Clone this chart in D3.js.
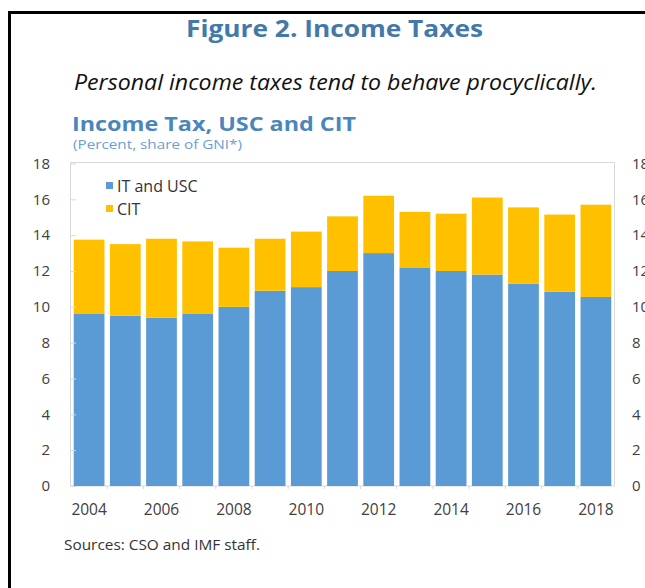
<!DOCTYPE html>
<html>
<head>
<meta charset="utf-8">
<script src="https://cdn.jsdelivr.net/npm/d3@7"></script>
<style>
  html, body { margin: 0; padding: 0; background: #fff; }
  svg { display: block; }
  text { font-family: "Open Sans", "Noto Sans", sans-serif; }
</style>
</head>
<body>
<svg id="chart" width="645" height="588"></svg>
<script>
// Income tax and USC vs corporate income tax, percent of GNI*
const years = [2004, 2005, 2006, 2007, 2008, 2009, 2010, 2011, 2012, 2013, 2014, 2015, 2016, 2017, 2018];
const itUsc = [9.6, 9.5, 9.4, 9.6, 10.0, 10.9, 11.1, 12.0, 13.0, 12.2, 12.0, 11.8, 11.3, 10.85, 10.55];
const cit   = [4.15, 4.0, 4.4, 4.05, 3.3, 2.9, 3.1, 3.05, 3.2, 3.1, 3.2, 4.3, 4.25, 4.3, 5.15];
const seriesNames = ["IT and USC", "CIT"];
const seriesColors = ["#5B9BD5", "#FFC000"];
const yTicks = [0, 2, 4, 6, 8, 10, 12, 14, 16, 18];
const xTickYears = [2004, 2006, 2008, 2010, 2012, 2014, 2016, 2018];

const svg = d3.select("#chart");
const plot = { left: 71, right: 614, top: 163, bottom: 486 };

// Frame around the figure
svg.append("path")
  .attr("d", "M9.5,588 L9.5,12.5 L645,12.5")
  .attr("fill", "none").attr("stroke", "#000").attr("stroke-width", 3);

// Headings
svg.append("text").attr("x", 186).attr("y", 37)
  .attr("font-size", 23.5).attr("font-weight", 700).attr("fill", "#4279A9")
  .attr("textLength", 297).attr("lengthAdjust", "spacingAndGlyphs")
  .text("Figure 2. Income Taxes");
svg.append("text").attr("x", 74).attr("y", 90)
  .attr("font-size", 21.5).attr("font-style", "italic").attr("fill", "#111")
  .attr("textLength", 523).attr("lengthAdjust", "spacingAndGlyphs")
  .text("Personal income taxes tend to behave procyclically.");
svg.append("text").attr("x", 72).attr("y", 131)
  .attr("font-size", 20).attr("font-weight", 700).attr("fill", "#4A86BD")
  .attr("textLength", 284).attr("lengthAdjust", "spacingAndGlyphs")
  .text("Income Tax, USC and CIT");
svg.append("text").attr("x", 73).attr("y", 148.5)
  .attr("font-size", 12.5).attr("fill", "#6AA0D2")
  .attr("textLength", 169).attr("lengthAdjust", "spacingAndGlyphs")
  .text("(Percent, share of GNI*)");

// Scales
const x = d3.scaleBand().domain(years).range([plot.left, plot.right])
  .paddingInner(0.15).paddingOuter(0.075);
const y = d3.scaleLinear().domain([0, 18]).range([plot.bottom, plot.top + 0.5]);

// Plot frame
svg.append("rect")
  .attr("x", plot.left - 0.5).attr("y", plot.top - 0.5)
  .attr("width", plot.right - plot.left + 1).attr("height", plot.bottom - plot.top + 0.5)
  .attr("fill", "none").attr("stroke", "#D9D9D9").attr("stroke-width", 1);

// Stacked bars
const rows = years.map((yr, i) => ({ year: yr, [seriesNames[0]]: itUsc[i], [seriesNames[1]]: cit[i] }));
const stacked = d3.stack().keys(seriesNames)(rows);
svg.append("g").selectAll("g").data(stacked).join("g")
  .attr("fill", (d, i) => seriesColors[i])
  .selectAll("rect").data(d => d).join("rect")
  .attr("x", d => x(d.data.year))
  .attr("width", x.bandwidth())
  .attr("y", d => y(d[1]))
  .attr("height", d => y(d[0]) - y(d[1]));

// Axes
const axisLeft = d3.axisLeft(y).tickValues(yTicks).tickSizeInner(-5).tickSizeOuter(0).tickPadding(21);
const axisRight = d3.axisRight(y).tickValues(yTicks).tickSize(0).tickPadding(18);
const axisBottom = d3.axisBottom(x).tickValues(xTickYears).tickSize(0).tickPadding(18);

function styleAxis(g, size) {
  g.select(".domain").remove();
  g.selectAll(".tick line").attr("stroke", "#D9D9D9");
  g.selectAll(".tick text").attr("font-family", "Open Sans, sans-serif")
    .attr("font-size", size).attr("fill", "#404040");
}
svg.append("g").attr("transform", `translate(${plot.left},0)`).call(axisLeft).call(styleAxis, 15);
svg.append("g").attr("transform", `translate(${plot.right},0)`).call(axisRight).call(styleAxis, 15);
svg.append("g").attr("transform", `translate(0,${plot.bottom})`).call(axisBottom).call(styleAxis, 15.5);

// Category separators along the baseline
svg.append("g").selectAll("line").data(years.slice(1)).join("line")
  .attr("x1", d => x(d) - x.step() * x.paddingInner() / 2)
  .attr("x2", d => x(d) - x.step() * x.paddingInner() / 2)
  .attr("y1", plot.bottom).attr("y2", plot.bottom + 3)
  .attr("stroke", "#D9D9D9");

// Legend
const legend = svg.append("g").attr("transform", "translate(106,0)");
seriesNames.forEach((name, i) => {
  const top = 182 + i * 23;
  legend.append("rect").attr("x", 0).attr("y", top).attr("width", 7).attr("height", 7)
    .attr("fill", seriesColors[i]);
  legend.append("text").attr("x", 11).attr("y", top + 10)
    .attr("font-size", 16).attr("fill", "#333").text(name);
});

// Source note
svg.append("text").attr("x", 64).attr("y", 550)
  .attr("font-size", 14).attr("fill", "#333")
  .attr("textLength", 196).attr("lengthAdjust", "spacingAndGlyphs")
  .text("Sources: CSO and IMF staff.");
</script>
</body>
</html>
